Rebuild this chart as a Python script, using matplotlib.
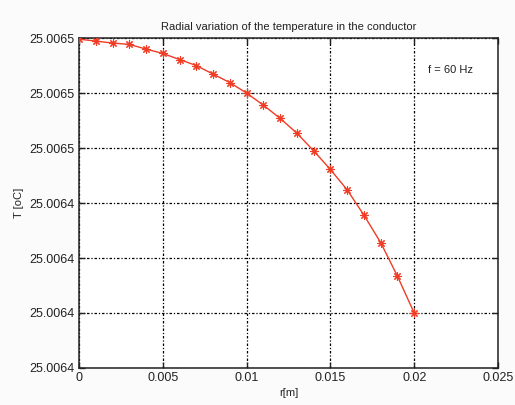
import matplotlib.pyplot as plt
from matplotlib.ticker import FormatStrFormatter

# radial position [m] and conductor temperature [oC] at 60 Hz
r = [0.0, 0.001, 0.002, 0.003, 0.004, 0.005, 0.006, 0.007, 0.008, 0.009, 0.010,
     0.011, 0.012, 0.013, 0.014, 0.015, 0.016, 0.017, 0.018, 0.019, 0.020]
T = [25.00646092, 25.00646078, 25.00646064, 25.00646054, 25.00646020, 25.00645988,
     25.00645944, 25.00645900, 25.00645838, 25.00645776, 25.00645700, 25.00645612,
     25.00645516, 25.00645408, 25.00645280, 25.00645144, 25.00644996, 25.00644812,
     25.00644612, 25.00644368, 25.00644100]

x_ticks = [0, 0.005, 0.01, 0.015, 0.02, 0.025]
x_labels = ["0", "0.005", "0.01", "0.015", "0.02", "0.025"]
y_ticks = [25.006437, 25.006441, 25.006445, 25.006449, 25.006453, 25.006457, 25.006461]


def main():
    plt.rcParams['font.family'] = ['Liberation Sans', 'DejaVu Sans']

    fig = plt.figure(figsize=(5.15, 4.05), dpi=100, facecolor='#fbfbfb')
    ax = fig.add_axes([0.1534, 0.0914, 0.8136, 0.8146])
    ax.set_facecolor('white')

    ax.plot(r, T, color='#f03c24', linewidth=1.0, marker=(8, 2, 0),
            markersize=6, markeredgewidth=0.8, zorder=3)

    ax.set_xlim(0, 0.025)
    ax.set_ylim(y_ticks[0], y_ticks[-1])
    ax.set_xticks(x_ticks)
    ax.set_xticklabels(x_labels)
    ax.set_yticks(y_ticks)
    ax.yaxis.set_major_formatter(FormatStrFormatter('%.4f'))

    # MATLAB-style dotted grid
    ax.grid(True, color='black', linestyle=(0, (2, 1.5, 1, 1.5)), linewidth=0.9)
    ax.tick_params(direction='in', length=4, width=1, labelsize=9, pad=3,
                   colors='#222222', right=True, top=True)
    for s in ax.spines.values():
        s.set_linewidth(1.1)
        s.set_color('#222222')

    ax.set_title("Radial variation of the temperature in the conductor",
                 fontsize=8, pad=6, color='#222222')
    ax.set_xlabel("r[m]", fontsize=8, labelpad=3, color='#222222')
    ax.set_ylabel("T [oC]", fontsize=8, labelpad=4, color='#222222')
    ax.text(0.0208, y_ticks[0] + 5.42 * 0.000004, "f = 60 Hz", fontsize=8,
            va='center', ha='left', color='#222222')

    plt.savefig("out.png", dpi=100, facecolor=fig.get_facecolor())


if __name__ == "__main__":
    main()
